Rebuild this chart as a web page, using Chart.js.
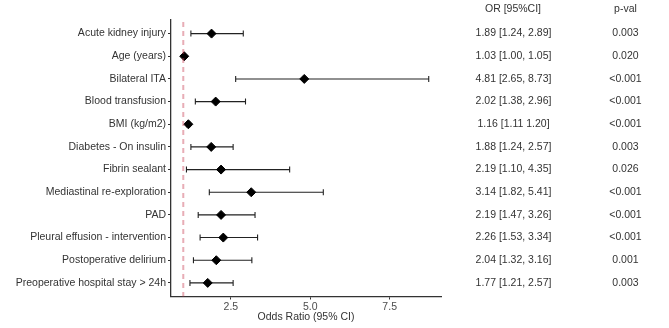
<!DOCTYPE html>
<html>
<head>
<meta charset="utf-8">
<script src="https://cdn.jsdelivr.net/npm/chart.js@4"></script>
<style>
  html, body { margin: 0; padding: 0; background: #fff; }
  #wrap { width: 669px; height: 328px; position: relative; }
</style>
</head>
<body>
<div id="wrap"><canvas id="forest"></canvas></div>
<script>
// Forest plot data
const variables = [
  'Acute kidney injury', 'Age (years)', 'Bilateral ITA', 'Blood transfusion',
  'BMI (kg/m2)', 'Diabetes - On insulin', 'Fibrin sealant', 'Mediastinal re-exploration',
  'PAD', 'Pleural effusion - intervention', 'Postoperative delirium',
  'Preoperative hospital stay > 24h'
]
const oddsRatio = [1.89, 1.03, 4.81, 2.02, 1.16, 1.88, 2.19, 3.14, 2.19, 2.26, 2.04, 1.77]
const ciLow = [1.24, 1.00, 2.65, 1.38, 1.11, 1.24, 1.10, 1.82, 1.47, 1.53, 1.32, 1.21]
const ciHigh = [2.89, 1.05, 8.73, 2.96, 1.20, 2.57, 4.35, 5.41, 3.26, 3.34, 3.16, 2.57]
const orText = [
  '1.89 [1.24, 2.89]', '1.03 [1.00, 1.05]', '4.81 [2.65, 8.73]', '2.02 [1.38, 2.96]',
  '1.16 [1.11 1.20]', '1.88 [1.24, 2.57]', '2.19 [1.10, 4.35]', '3.14 [1.82, 5.41]',
  '2.19 [1.47, 3.26]', '2.26 [1.53, 3.34]', '2.04 [1.32, 3.16]', '1.77 [1.21, 2.57]'
]
const pValues = ['0.003', '0.020', '<0.001', '<0.001', '<0.001', '0.003', '0.026',
  '<0.001', '<0.001', '<0.001', '0.001', '0.003']
const xTicks = [2.5, 5.0, 7.5]
const refValue = 1

const FONT = 'Liberation Sans, Arial, sans-serif'
const TEXT = '#333333'

// whiskers, reference line and the OR / p-value columns
const forestPlugin = {
  id: 'forest',
  beforeDatasetsDraw(chart) {
    const { ctx, scales: { x, y } } = chart
    ctx.save()
    ctx.strokeStyle = '#222'
    ctx.lineWidth = 1.1
    variables.forEach((v, i) => {
      const py = y.getPixelForValue(i)
      const x1 = x.getPixelForValue(ciLow[i])
      const x2 = x.getPixelForValue(ciHigh[i])
      ctx.beginPath()
      ctx.moveTo(x1, py); ctx.lineTo(x2, py)
      ctx.moveTo(x1, py - 3); ctx.lineTo(x1, py + 3)
      ctx.moveTo(x2, py - 3); ctx.lineTo(x2, py + 3)
      ctx.stroke()
    })
    ctx.restore()
  },
  afterDatasetsDraw(chart) {
    const { ctx, chartArea, scales: { x, y } } = chart
    ctx.save()
    // reference line at OR = 1
    const rx = x.getPixelForValue(refValue)
    ctx.strokeStyle = 'rgba(200, 60, 80, 0.42)'
    ctx.lineWidth = 2
    ctx.setLineDash([5, 4])
    ctx.beginPath()
    ctx.moveTo(rx, chartArea.top + 2)
    ctx.lineTo(rx, chartArea.bottom)
    ctx.stroke()
    ctx.setLineDash([])

    // table columns
    ctx.fillStyle = TEXT
    ctx.font = '10.5px ' + FONT
    ctx.textAlign = 'center'
    ctx.textBaseline = 'middle'
    ctx.fillText('OR [95%CI]', 513, 9.5)
    ctx.fillText('p-val', 625.5, 9.5)
    variables.forEach((v, i) => {
      const py = y.getPixelForValue(i)
      ctx.fillText(orText[i], 513.5, py)
      ctx.fillText(pValues[i], 625.5, py)
    })
    ctx.restore()
  }
}

new Chart(document.getElementById('forest'), {
  type: 'scatter',
  data: {
    datasets: [{
      data: oddsRatio.map((v, i) => ({ x: v, y: i })),
      pointStyle: 'rectRot',
      pointRadius: 4.5,
      pointHoverRadius: 4.5,
      backgroundColor: '#000',
      borderColor: '#000',
      borderWidth: 1
    }]
  },
  options: {
    responsive: true,
    maintainAspectRatio: false,
    animation: false,
    layout: { padding: { top: 20, right: 228, left: 0, bottom: 0 } },
    plugins: {
      legend: { display: false },
      tooltip: { enabled: false }
    },
    scales: {
      x: {
        type: 'linear',
        min: 0.6135,
        max: 9.1165,
        afterBuildTicks: (scale) => { scale.ticks = xTicks.map(v => ({ value: v })) },
        afterFit: (scale) => { scale.height = 31.5 },
        ticks: {
          color: '#4d4d4d',
          font: { family: FONT, size: 10.5 },
          padding: 1,
          maxRotation: 0,
          callback: (v) => v.toFixed(1)
        },
        grid: {
          drawOnChartArea: false,
          drawTicks: true,
          tickLength: 3,
          color: '#333',
          tickColor: '#333'
        },
        border: { display: true, color: '#333', width: 1.3 },
        title: {
          display: true,
          text: 'Odds Ratio (95% CI)',
          color: TEXT,
          font: { family: FONT, size: 10.5 },
          padding: { top: 0, bottom: 5 }
        }
      },
      y: {
        type: 'linear',
        reverse: true,
        min: -0.6,
        max: 11.6,
        afterBuildTicks: (scale) => { scale.ticks = variables.map((v, i) => ({ value: i })) },
        afterFit: (scale) => { scale.width = 171 },
        ticks: {
          color: TEXT,
          font: { family: FONT, size: 10.5 },
          padding: 2,
          callback: (v) => variables[v]
        },
        grid: {
          drawOnChartArea: false,
          drawTicks: true,
          tickLength: 3,
          color: '#333',
          tickColor: '#333'
        },
        border: { display: true, color: '#333', width: 1.3 }
      }
    }
  },
  plugins: [forestPlugin]
})
</script>
</body>
</html>
